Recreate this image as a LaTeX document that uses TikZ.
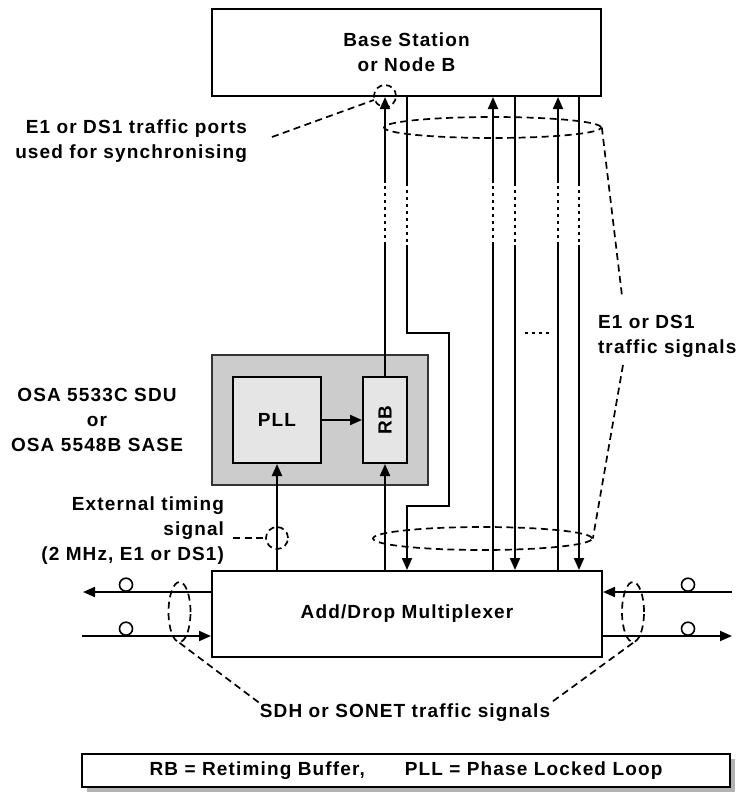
\documentclass[tikz,border=0pt]{standalone}
\usepackage{fontspec}
\setmainfont{Liberation Sans}[LetterSpace=6]
\usetikzlibrary{arrows.meta,positioning,calc,shapes.geometric}
\tikzset{box/.style={draw,rectangle,line width=2pt,inner sep=0pt},
  lbl/.style={inner sep=0pt},
  ring/.style={draw,circle,line width=1.7pt,dash pattern=on 6pt off 4pt,inner sep=0pt,minimum size=22pt},
  bundle/.style={draw,ellipse,line width=1.7pt,dash pattern=on 7pt off 4.5pt,inner sep=0pt},
  dashline/.style={line width=1.7pt,dash pattern=on 7pt off 4.5pt},
  linkgap/.style={dash pattern=on 3pt off 4pt},
  port/.style={draw,circle,line width=1.6pt,minimum size=13pt,inner sep=0pt}}

\begin{document}
\begin{tikzpicture}[x=1pt, y=-1pt, >={Triangle[length=12pt,width=10pt]}, line width=2pt,
  font=\bfseries\fontsize{19}{25}\selectfont]
\useasboundingbox (0,0) rectangle (737,792);
\node[box, minimum width=389pt, minimum height=87pt, align=center] (bs) at (406.5,52.5) {Base Station\\or Node B};
\node[box, fill=black!20, draw=black!80, minimum width=216pt, minimum height=130pt] (osa) at (320,420) {};
\node[box, fill=black!10, minimum width=88pt, minimum height=86pt] (pll) at (277,420) {PLL};
\node[box, fill=black!10, minimum width=44pt, minimum height=86pt] (rb) at (385,420) {\rotatebox{90}{RB}};
\node[box, minimum width=390pt, minimum height=86pt] (adm) at (407,614) {Add/Drop Multiplexer};

\node[lbl, align=right, anchor=east] (ports) at (248,141) {E1 or DS1 traffic ports\\used for synchronising};
\node[lbl, align=left, anchor=west] (sig) at (597,336) {E1 or DS1\\traffic signals};
\node[lbl, align=center] (osalbl) at (97,419.5) {OSA 5533C SDU\\or\\OSA 5548B SASE};
\node[lbl, align=right, anchor=east] (ext) at (225,531) {External timing\\signal\\(2 MHz, E1 or DS1)};
\node[lbl] (sdh) at (405,712.5) {SDH or SONET traffic signals};
\node[fill=black!30, inner sep=0pt, minimum width=648pt, minimum height=33pt] (keyshadow) at (411,775.5) {};
\node[box, fill=white, line width=1.3pt, minimum width=648pt, minimum height=33pt] (key) at (406,770.5)
  {RB = Retiming Buffer,\hspace{40pt}PLL = Phase Locked Loop};

\node[ring] (syncring) at (385,96) {};
\node[ring] (extring) at (277,538) {};
\node[bundle, minimum width=217pt, minimum height=21pt] (topbundle) at (492.5,127.5) {};
\node[bundle, minimum width=219pt, minimum height=23pt] (lowbundle) at (482.5,538.5) {};
\node[bundle, minimum width=22pt, minimum height=60pt] (wbundle) at (179.5,612) {};
\node[bundle, minimum width=22pt, minimum height=60pt] (ebundle) at (633,612) {};

\coordinate (portsend) at (272,137);
\coordinate (sigtop) at (622,296);
\coordinate (sigbot) at (623,365);
\coordinate (wout) at (83,592);
\coordinate (win) at (82,636);
\coordinate (ein) at (732,592);
\coordinate (eout) at (732,636);

\draw (rb.north) -- (385,245);
\draw[linkgap] (385,245) -- (385,183);
\draw[->] (385,183) -- (rb.north |- bs.south);
\draw (407,0 |- bs.south) -- (407,183);
\draw[linkgap] (407,183) -- (407,245);
\draw[->] (407,245) -- (407,333) -- (449,333) -- (449,506) -- (407,506) -- (407,0 |- adm.north);
\foreach \x in {493,558} {
  \draw (\x,0 |- adm.north) -- (\x,245);
  \draw[linkgap] (\x,245) -- (\x,183);
  \draw[->] (\x,183) -- (\x,0 |- bs.south);
}
\foreach \x in {515,579} {
  \draw (\x,0 |- bs.south) -- (\x,183);
  \draw[linkgap] (\x,183) -- (\x,245);
  \draw[->] (\x,245) -- (\x,0 |- adm.north);
}
\draw[linkgap] (525,333) -- (551,333);
\draw[->] (pll.south |- adm.north) -- (pll.south);
\draw[->] (rb.south |- adm.north) -- (rb.south);
\draw[->] (pll.east) -- (rb.west);

\draw[->] (adm.west |- wout) -- (wout);
\draw[->] (win) -- (adm.west |- win);
\draw[->] (ein) -- (adm.east |- ein);
\draw[->] (adm.east |- eout) -- (eout);
\node[port, anchor=south] (wp1) at (126,592) {};
\node[port, anchor=south] (wp2) at (126,636) {};
\node[port, anchor=south] (ep1) at (688,592) {};
\node[port, anchor=south] (ep2) at (688,636) {};

\draw[dashline] (portsend) -- (syncring);
\draw[dashline] ([xshift=8pt]ext.east |- extring) -- (extring);
\draw[dashline] (topbundle.east) -- (sigtop);
\draw[dashline] (sigbot) -- (lowbundle.east);
\draw[dashline] (wbundle.south) -- (sdh.north west);
\draw[dashline] (ebundle.south) -- (sdh.north east);
\end{tikzpicture}
\end{document}
